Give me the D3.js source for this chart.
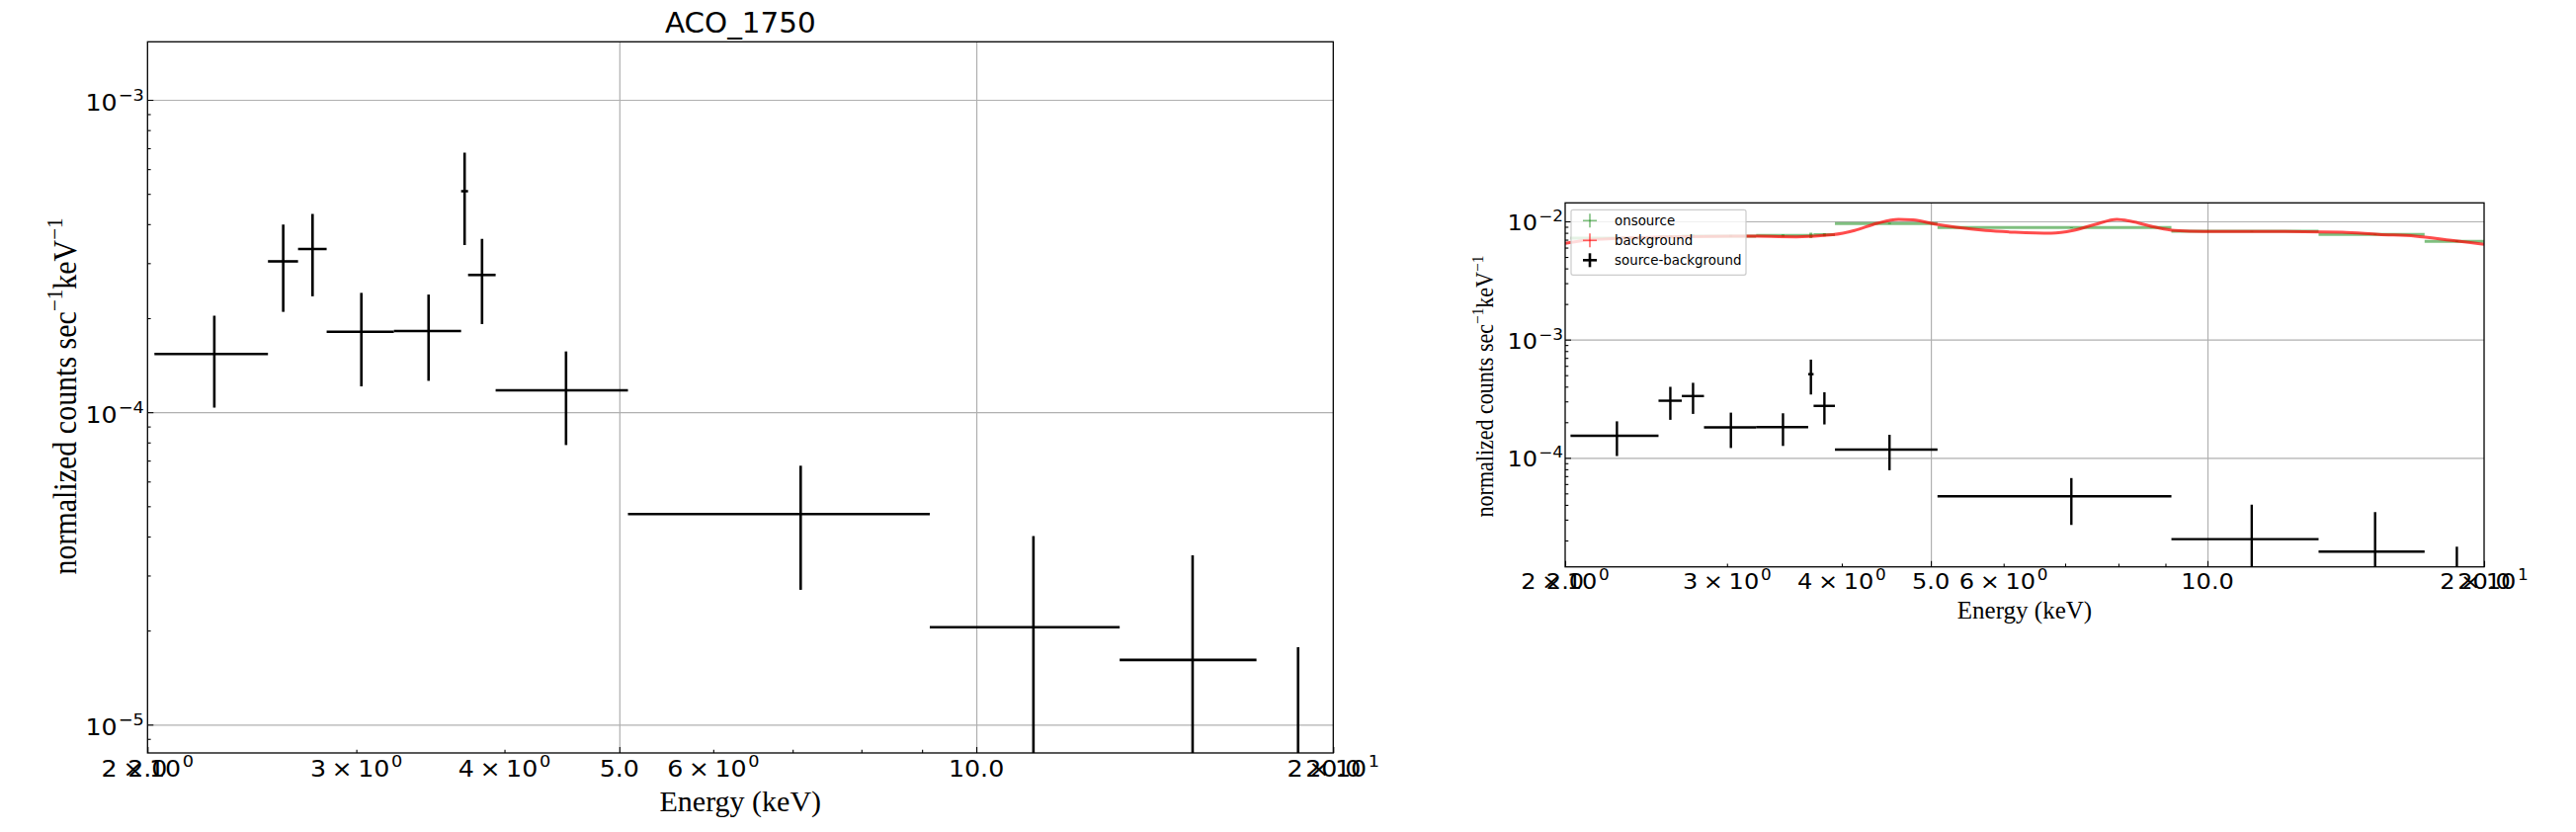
<!DOCTYPE html>
<html><head><meta charset="utf-8">
<script src="https://cdn.jsdelivr.net/npm/d3@7"></script>
<style>body{margin:0;background:#fff} svg{display:block}</style>
</head><body>
<svg id="chart" width="2607" height="842"></svg>
<script>
// ---------------- DATA ----------------
const titleText = "ACO_1750";
const binEdges = [2.027, 2.527, 2.679, 2.832, 3.227, 3.677, 3.727, 3.932, 5.084, 9.136, 13.21, 17.23, 20.13];
const srcBkg    = [1.535e-4, 3.04e-4, 3.33e-4, 1.81e-4, 1.82e-4, 5.10e-4, 2.75e-4, 1.175e-4, 4.72e-5, 2.05e-5, 1.61e-5, 3.0e-6];
const srcBkgErr = [0.50e-4, 0.945e-4, 0.98e-4, 0.60e-4, 0.56e-4, 1.67e-4, 0.835e-4, 0.39e-4, 2.02e-5, 1.96e-5, 1.87e-5, 1.47e-5];
const onsource    = [7.2e-3, 7.4e-3, 7.5e-3, 7.5e-3, 7.6e-3, 7.6e-3, 7.7e-3, 9.6e-3, 8.86e-3, 8.25e-3, 7.75e-3, 6.77e-3];
const onsourceErr = [1.2e-4, 2.5e-4, 2.5e-4, 1.6e-4, 1.6e-4, 4e-4, 2.5e-4, 1.0e-4, 0.6e-4, 0.6e-4, 0.7e-4, 1.0e-4];
const bkgEnergy = [2.0, 2.1, 2.3, 2.6, 3.14, 3.57, 3.91, 4.13, 4.37, 4.61, 4.78, 5.05, 5.33, 5.74, 6.17, 6.76, 7.14, 7.54, 7.97, 8.26, 8.73, 9.22, 9.91, 11.68, 14.02, 15.36, 16.83, 18.43, 20.0];
const bkgRate   = [6.5e-3, 6.9e-3, 7.2e-3, 7.4e-3, 7.5e-3, 7.4e-3, 7.7e-3, 8.36e-3, 9.62e-3, 1.04e-2, 1.03e-2, 9.5e-3, 8.9e-3, 8.36e-3, 8.1e-3, 7.94e-3, 8.36e-3, 9.4e-3, 1.04e-2, 1.0e-2, 9.0e-3, 8.36e-3, 8.2e-3, 8.2e-3, 8.1e-3, 7.75e-3, 7.5e-3, 6.9e-3, 6.4e-3];
const xDomain = [2, 20];
const majorXTicks = [2, 5, 10, 20];
const majorXLabels = ["2.0", "5.0", "10.0", "20.0"];
const minorXTickMarks = [3, 4, 6, 7, 8, 9];
const minorXLabelTicks = [2, 3, 4, 6, 20];
const minorXLabelMant = ["2", "3", "4", "6", "2"];
const minorXLabelExp  = ["0", "0", "0", "0", "1"];
const legendLabels = ["onsource", "background", "source-background"];
const xLabelText = "Energy (keV)";

// ---------------- DRAWING ----------------
const svg = d3.select("#chart");
svg.append("rect").attr("width", 2607).attr("height", 842).attr("fill", "#fff");

function stretchedText(parent, x, y, sx, fs, family, anchor) {
  return parent.append("text").attr("transform", `translate(${x},${y}) scale(${sx},1)`)
    .attr("text-anchor", anchor).attr("font-family", family).attr("font-size", fs).attr("fill", "#000");
}

function decadesIn(dom) {
  const lo = Math.min(...dom), hi = Math.max(...dom);
  const out = [];
  for (let e = Math.ceil(Math.log10(lo)); e <= Math.floor(Math.log10(hi)); e++) out.push(Math.pow(10, e));
  return out;
}
function minorsIn(dom) {
  const lo = Math.min(...dom), hi = Math.max(...dom);
  const out = [];
  for (let e = Math.floor(Math.log10(lo)); e <= Math.ceil(Math.log10(hi)); e++)
    for (let m = 2; m <= 9; m++) { const v = m * Math.pow(10, e); if (v >= lo && v <= hi) out.push(v); }
  return out;
}

function drawPanel(cfg) {
  const x = d3.scaleLog().domain(xDomain).range([cfg.x0, cfg.x1]);
  const y = d3.scaleLog().domain(cfg.yDomain).range([cfg.y0, cfg.y1]);
  const w = cfg.x1 - cfg.x0, h = cfg.y1 - cfg.y0;
  const g = svg.append("g");
  const clipId = "clip" + cfg.id;
  svg.append("clipPath").attr("id", clipId).append("rect")
    .attr("x", cfg.x0).attr("y", cfg.y0).attr("width", w).attr("height", h);

  const yMajor = decadesIn(cfg.yDomain);
  // grid
  g.append("g").attr("transform", `translate(0,${cfg.y1})`)
    .call(d3.axisBottom(x).tickValues([5, 10]).tickSize(-h).tickFormat(""))
    .call(s => { s.select(".domain").remove(); s.selectAll("line").attr("stroke", "#b0b0b0").attr("stroke-width", 1.2); });
  g.append("g").attr("transform", `translate(${cfg.x0},0)`)
    .call(d3.axisLeft(y).tickValues(yMajor).tickSize(-w).tickFormat(""))
    .call(s => { s.select(".domain").remove(); s.selectAll("line").attr("stroke", "#b0b0b0").attr("stroke-width", 1.2); });

  const data = g.append("g").attr("clip-path", `url(#${clipId})`);
  const bins = srcBkg.map((v, i) => ({lo: binEdges[i], hi: binEdges[i + 1], c: (binEdges[i] + binEdges[i + 1]) / 2, v, e: srcBkgErr[i], on: onsource[i], onE: onsourceErr[i]}));
  const safe = v => Math.max(v, 1e-9);

  if (cfg.showBkg) {
    const og = data.append("g").attr("stroke", "#008000").attr("stroke-opacity", 0.5).attr("stroke-width", 3);
    og.selectAll("line.h").data(bins).join("line")
      .attr("x1", d => x(d.lo)).attr("x2", d => x(d.hi)).attr("y1", d => y(d.on)).attr("y2", d => y(d.on));
    og.selectAll("line.v").data(bins).join("line")
      .attr("x1", d => x(d.c)).attr("x2", d => x(d.c)).attr("y1", d => y(d.on - d.onE)).attr("y2", d => y(d.on + d.onE));
    const line = d3.line().x((d, i) => x(bkgEnergy[i])).y(d => y(d)).curve(d3.curveMonotoneX);
    data.append("path").datum(bkgRate).attr("d", line).attr("fill", "none")
      .attr("stroke", "#ff0000").attr("stroke-opacity", 0.7).attr("stroke-width", 3);
  }

  const bg = data.append("g").attr("stroke", "#000").attr("stroke-width", cfg.barW);
  bg.selectAll("line.h").data(bins).join("line")
    .attr("x1", d => x(d.lo)).attr("x2", d => x(d.hi)).attr("y1", d => y(safe(d.v))).attr("y2", d => y(safe(d.v)));
  bg.selectAll("line.v").data(bins).join("line")
    .attr("x1", d => x(d.c)).attr("x2", d => x(d.c)).attr("y1", d => y(safe(d.v - d.e))).attr("y2", d => y(d.v + d.e));

  // tick marks (inside)
  const tk = s => { s.select(".domain").remove(); s.selectAll("line").attr("stroke", "#000").attr("stroke-width", 1.1); };
  g.append("g").attr("transform", `translate(${cfg.x0},0)`)
    .call(d3.axisLeft(y).tickValues(yMajor).tickSize(-6).tickFormat("")).call(tk);
  g.append("g").attr("transform", `translate(${cfg.x0},0)`)
    .call(d3.axisLeft(y).tickValues(minorsIn(cfg.yDomain)).tickSize(-3.3).tickFormat("")).call(tk);
  g.append("g").attr("transform", `translate(0,${cfg.y1})`)
    .call(d3.axisBottom(x).tickValues(majorXTicks).tickSize(-6).tickFormat("")).call(tk);
  g.append("g").attr("transform", `translate(0,${cfg.y1})`)
    .call(d3.axisBottom(x).tickValues(minorXTickMarks).tickSize(-3.3).tickFormat("")).call(tk);

  // spines
  g.append("rect").attr("x", cfg.x0).attr("y", cfg.y0).attr("width", w).attr("height", h)
    .attr("fill", "none").attr("stroke", "#000").attr("stroke-width", 1.3);

  // y tick labels
  const fs = cfg.tickFs, sx = cfg.sx;
  yMajor.forEach(v => {
    const t = stretchedText(g, cfg.x0 - cfg.yPad, y(v) + cfg.yLabOff, sx, fs, "DejaVu Sans", "end");
    t.append("tspan").text("10");
    t.append("tspan").attr("font-size", fs * 0.7).attr("dx", 1).attr("dy", -0.42 * fs).text("\u2212" + Math.round(-Math.log10(v)));
  });
  // x tick labels
  minorXLabelTicks.forEach((v, i) => {
    const t = stretchedText(g, x(v), cfg.xLabBase, sx, fs, "DejaVu Sans", "middle");
    t.append("tspan").text(minorXLabelMant[i]);
    t.append("tspan").attr("dx", 5).text("\u00d7");
    t.append("tspan").attr("dx", 5).text("10");
    t.append("tspan").attr("font-size", fs * 0.7).attr("dx", 1.5).attr("dy", -0.42 * fs).text(minorXLabelExp[i]);
  });
  majorXTicks.forEach((v, i) => {
    stretchedText(g, x(v), cfg.xLabBase, sx, fs, "DejaVu Sans", "middle").text(majorXLabels[i]);
  });

  // axis labels
  g.append("text").attr("x", (cfg.x0 + cfg.x1) / 2).attr("y", cfg.xTitleBase)
    .attr("text-anchor", "middle").attr("font-family", "Liberation Serif").attr("font-size", cfg.xTitleFs)
    .attr("fill", "#000").text(xLabelText);
  const yl = g.append("text").attr("transform", `translate(${cfg.yTitleX},${cfg.yTitleY}) rotate(-90) scale(1,${cfg.yTitleSy})`)
    .attr("text-anchor", "middle").attr("font-family", "Liberation Serif").attr("font-size", cfg.yTitleFs).attr("fill", "#000");
  const yf = cfg.yTitleFs;
  yl.append("tspan").text("normalized counts sec");
  yl.append("tspan").attr("font-size", yf * 0.7).attr("dy", -0.42 * yf).text("\u22121");
  yl.append("tspan").attr("dy", 0.42 * yf).text("keV");
  yl.append("tspan").attr("font-size", yf * 0.7).attr("dy", -0.42 * yf).text("\u22121");

  if (cfg.title) {
    stretchedText(g, (cfg.x0 + cfg.x1) / 2, cfg.titleBase, 1.05, cfg.titleFs, "DejaVu Sans", "middle").text(cfg.title);
  }

  if (cfg.legend) {
    const L = cfg.legend;
    const lg = g.append("g");
    lg.append("rect").attr("x", L.x).attr("y", L.y).attr("width", L.w).attr("height", L.h).attr("rx", 2)
      .attr("fill", "#fff").attr("fill-opacity", 0.8).attr("stroke", "#cccccc").attr("stroke-width", 1.2);
    const cols = [{c: "#008000", o: 0.5, sw: 1.6}, {c: "#ff0000", o: 0.6, sw: 1.6}, {c: "#000", o: 1, sw: 2.6}];
    legendLabels.forEach((lab, i) => {
      const cy = L.y + 11 + i * 20;
      const mk = lg.append("g").attr("stroke", cols[i].c).attr("stroke-opacity", cols[i].o).attr("stroke-width", cols[i].sw);
      mk.append("line").attr("x1", L.mx - 7).attr("x2", L.mx + 7).attr("y1", cy).attr("y2", cy);
      mk.append("line").attr("x1", L.mx).attr("x2", L.mx).attr("y1", cy - 7).attr("y2", cy + 7);
      lg.append("text").attr("x", L.tx).attr("y", cy + 4.8).attr("font-family", "DejaVu Sans").attr("font-size", 13.4)
        .attr("fill", "#000").text(lab);
    });
  }
}

drawPanel({
  id: "L", x0: 149.3, x1: 1349.3, y0: 42.3, y1: 762, yDomain: [1.5337e-3, 8.113e-6],
  barW: 2.6, tickFs: 23, sx: 1.1, yPad: 3.5, yLabOff: 10.5, xLabBase: 786,
  xTitleBase: 821, xTitleFs: 30, yTitleX: 77, yTitleY: 401, yTitleFs: 30, yTitleSy: 1.12,
  title: titleText, titleBase: 33, titleFs: 28, showBkg: false
});
drawPanel({
  id: "R", x0: 1584, x1: 2514, y0: 205.3, y1: 573.7, yDomain: [1.4335e-2, 1.195e-5],
  barW: 2.4, tickFs: 21.5, sx: 1.12, yPad: 2, yLabOff: 9, xLabBase: 596,
  xTitleBase: 626, xTitleFs: 25, yTitleX: 1511, yTitleY: 391, yTitleFs: 22, yTitleSy: 1.1,
  showBkg: true,
  legend: {x: 1590, y: 212.3, w: 177, h: 66, mx: 1609, tx: 1634}
});
</script>
</body></html>
